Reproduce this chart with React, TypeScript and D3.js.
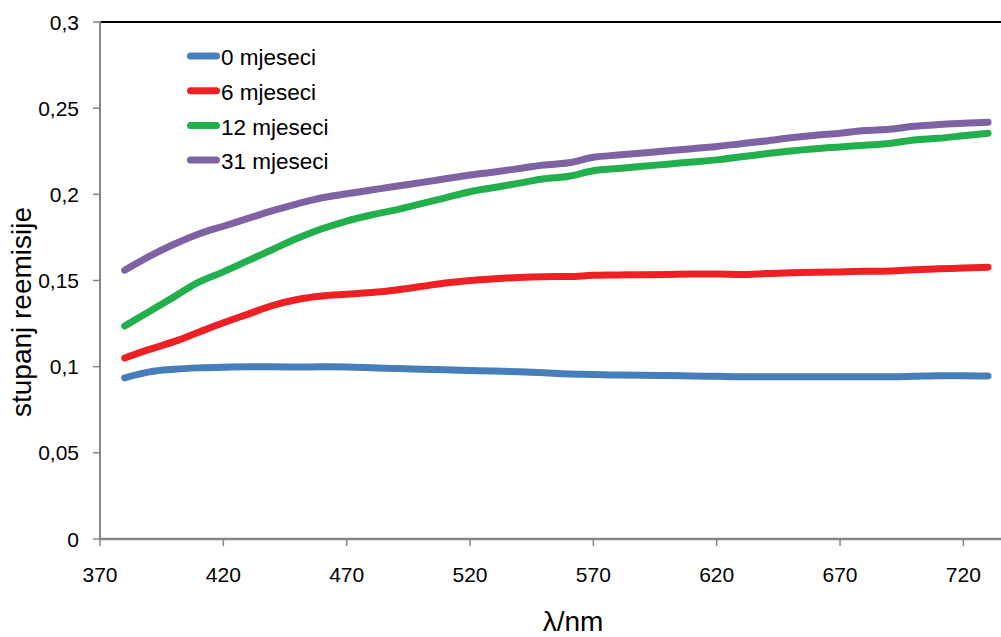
import React from "react";
import * as d3 from "d3";

const wavelengths = [380, 390, 400, 410, 420, 430, 440, 450, 460, 470, 480, 490, 500, 510, 520, 530, 540, 550, 560, 570, 580, 590, 600, 610, 620, 630, 640, 650, 660, 670, 680, 690, 700, 710, 720, 730];

const m0 = [0.0935, 0.097, 0.0985, 0.0993, 0.0997, 0.0999, 0.0999, 0.0998, 0.0999, 0.0998, 0.0994, 0.0989, 0.0985, 0.0982, 0.0978, 0.0975, 0.097, 0.0964, 0.0957, 0.0955, 0.0951, 0.095, 0.0949, 0.0946, 0.0944, 0.0941, 0.0941, 0.0941, 0.0942, 0.0941, 0.0942, 0.0942, 0.0944, 0.0947, 0.0947, 0.0946];
const m6 = [0.105, 0.11, 0.1145, 0.12, 0.1255, 0.1305, 0.1355, 0.139, 0.141, 0.142, 0.143, 0.1445, 0.1465, 0.1485, 0.15, 0.151, 0.1518, 0.1522, 0.1523, 0.153, 0.1532, 0.1534, 0.1535, 0.1537, 0.1537, 0.1535, 0.154, 0.1545, 0.1548, 0.155, 0.1553, 0.1555, 0.1563, 0.1568, 0.1572, 0.1577];
const m12 = [0.1236, 0.132, 0.1405, 0.149, 0.155, 0.1615, 0.168, 0.1745, 0.18, 0.1845, 0.188, 0.191, 0.1945, 0.198, 0.2015, 0.204, 0.2065, 0.209, 0.2105, 0.2137, 0.215, 0.2163, 0.2175, 0.2188, 0.22, 0.2218, 0.2235, 0.2252, 0.2265, 0.2275, 0.2285, 0.2295, 0.2315, 0.2325, 0.234, 0.2355];
const m31 = [0.156, 0.164, 0.171, 0.177, 0.1815, 0.186, 0.1905, 0.1945, 0.198, 0.2003, 0.2025, 0.2047, 0.2068, 0.209, 0.2112, 0.213, 0.215, 0.217, 0.2183, 0.2215, 0.2228, 0.224, 0.2253, 0.2265, 0.2278, 0.2294, 0.231, 0.2328, 0.2343, 0.2355, 0.237, 0.2378, 0.2395, 0.2405, 0.2412, 0.2418];

const seriesNames = ["0 mjeseci", "6 mjeseci", "12 mjeseci", "31 mjeseci"];
const seriesColors = ["#467DBB", "#EE2024", "#21B04C", "#7E62A4"];
const seriesValues = [m0, m6, m12, m31];

const xTicks = [370, 420, 470, 520, 570, 620, 670, 720];
const yTicks = [0, 0.05, 0.1, 0.15, 0.2, 0.25, 0.3];

const W = 1001;
const H = 637;
const left = 100;
const top = 22;
const bottom = 539;

export default function App() {
  const x = d3.scaleLinear().domain([370, 740]).range([left, 1012.7]);
  const y = d3.scaleLinear().domain([0, 0.3]).range([bottom, top]);
  const line = d3
    .line<[number, number]>()
    .x((d) => x(d[0]))
    .y((d) => y(d[1]))
    .curve(d3.curveMonotoneX);
  const font = "Arial, 'Liberation Sans', Helvetica, sans-serif";
  const fmt = (v: number) => String(v).replace(".", ",");

  return (
    <svg width={W} height={H} style={{ position: "absolute", left: 0, top: 0, background: "#fff" }} fontFamily={font}>
      <rect x={0} y={0} width={W} height={H} fill="#fff" />
      <line x1={left} x2={W} y1={top} y2={top} stroke="#000" strokeWidth={2} />
      <line x1={left} x2={left} y1={top - 1} y2={bottom + 1} stroke="#868686" strokeWidth={2} />
      {yTicks.map((t) => (
        <g key={"y" + t}>
          <line x1={left - 7} x2={left} y1={y(t)} y2={y(t)} stroke="#868686" strokeWidth={1.5} />
          <text x={79} y={y(t)} dy="0.36em" textAnchor="end" fontSize={21} fill="#000">
            {fmt(t)}
          </text>
        </g>
      ))}
      <line x1={left - 1} x2={W} y1={bottom} y2={bottom} stroke="#868686" strokeWidth={2.5} />
      {xTicks.map((t) => (
        <g key={"x" + t}>
          <line x1={x(t)} x2={x(t)} y1={bottom} y2={bottom + 7} stroke="#868686" strokeWidth={1.5} />
          <text x={x(t)} y={574} dy="0.36em" textAnchor="middle" fontSize={21} fill="#000">
            {t}
          </text>
        </g>
      ))}
      {seriesValues.map((vals, i) => (
        <path
          key={seriesNames[i]}
          d={line(wavelengths.map((w, j) => [w, vals[j]] as [number, number])) || ""}
          fill="none"
          stroke={seriesColors[i]}
          strokeWidth={7}
          strokeLinecap="round"
          strokeLinejoin="round"
        />
      ))}
      {seriesNames.map((n, i) => {
        const ly = 56 + i * 34.7;
        return (
          <g key={"lg" + n}>
            <line x1={190.5} x2={216.5} y1={ly} y2={ly} stroke={seriesColors[i]} strokeWidth={7} strokeLinecap="round" />
            <text x={221} y={ly + 1} dy="0.36em" fontSize={22.5} fill="#000">
              {n}
            </text>
          </g>
        );
      })}
      <text x={573} y={631} textAnchor="middle" fontSize={28} fill="#000">
        λ/nm
      </text>
      <text
        transform={`translate(31,${312}) rotate(-90)`}
        textAnchor="middle"
        fontSize={28}
        fill="#000"
      >
        stupanj reemisije
      </text>
    </svg>
  );
}
